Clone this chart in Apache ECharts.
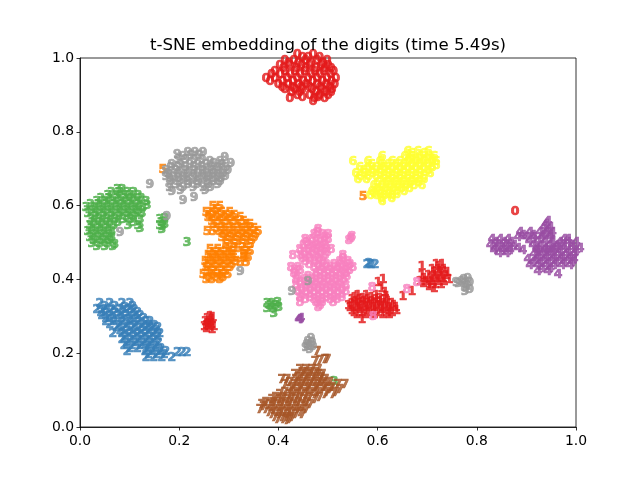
<!DOCTYPE html>
<html><head><meta charset="utf-8">
<style>html,body{margin:0;padding:0;background:#fff}#c{width:640px;height:480px}</style>
<script src="https://cdn.jsdelivr.net/npm/echarts@6/dist/echarts.min.js"></script>
</head><body><div id="c"></div>
<script>
const titleText = "t-SNE embedding of the digits (time 5.49s)";
const digitNames = ["0","1","2","3","4","5","6","7","8","9"];
const digitColors = ["#e41a1c","#e41a1c","#377eb8","#4daf4a","#984ea3","#ff7f00","#ffff33","#a65628","#f781bf","#999999"];

const digit0 = [[.43,.995],[.462,.995],[.405,.98],[.423,.98],[.447,.98],[.47,.98],[.49,.98],[.395,.965],[.415,.965],[.438,.965],[.455,.965],[.478,.965],[.492,.965],[.385,.948],[.405,.948],[.425,.948],[.445,.948],[.465,.948],[.483,.948],[.503,.948],[.367,.93],[.385,.93],[.41,.93],[.43,.93],[.452,.93],[.47,.93],[.49,.93],[.508,.93],[.392,.915],[.412,.915],[.432,.915],[.448,.915],[.47,.915],[.488,.915],[.505,.915],[.405,.9],[.425,.9],[.44,.9],[.46,.9],[.48,.9],[.5,.9],[.43,.885],[.455,.885],[.475,.885],[.492,.885],[.415,.875],[.465,.875],[.485,.875],[.462,.868],[.869,.569],
[.44,.988],[.452,.988],[.475,.988],[.412,.972],[.432,.972],[.458,.972],[.482,.972],[.402,.957],[.428,.957],[.447,.957],[.468,.957],[.486,.957],[.498,.957],[.378,.94],[.396,.94],[.416,.94],[.436,.94],[.458,.94],[.476,.94],[.497,.94],[.375,.923],[.4,.923],[.421,.923],[.442,.923],[.461,.923],[.481,.923],[.499,.923],[.4,.907],[.42,.907],[.438,.907],[.455,.907],[.476,.907],[.495,.907],[.418,.892],[.435,.892],[.468,.892],[.486,.892],[.498,.892],[.44,.878],[.472,.878]];
const digit1 = [[.254,.285],[.244,.271],[.254,.271],[.242,.257],[.252,.257],[.262,.257],[.26,.282],[.25,.265],[.603,.385],[.593,.377],[.607,.35],[.552,.341],[.569,.341],[.589,.341],[.54,.33],[.556,.33],[.573,.33],[.589,.33],[.605,.33],[.54,.32],[.556,.32],[.573,.32],[.589,.32],[.605,.32],[.621,.32],[.536,.309],[.552,.309],[.569,.309],[.585,.309],[.601,.309],[.617,.309],[.629,.309],[.544,.295],[.56,.295],[.577,.295],[.593,.295],[.609,.295],[.621,.295],[.56,.276],[.643,.339],[.661,.352],[.71,.425],[.722,.425],[.702,.412],[.714,.412],[.726,.412],[.681,.396],[.694,.396],[.706,.396],[.718,.396],[.73,.396],[.677,.379],[.69,.379],[.702,.379],[.714,.379],[.726,.379],[.681,.42],[.696,.366],
[.248,.279],[.258,.278],[.247,.262],[.257,.264],[.246,.252],[.258,.25],[.546,.336],[.562,.335],[.58,.337],[.597,.334],[.548,.325],[.565,.326],[.581,.325],[.597,.325],[.613,.326],[.533,.314],[.548,.315],[.563,.314],[.578,.316],[.594,.314],[.61,.315],[.625,.314],[.54,.302],[.556,.303],[.571,.301],[.586,.302],[.6,.303],[.615,.301],[.63,.302],[.55,.291],[.567,.29],[.585,.291],[.602,.29],[.615,.29],[.6,.36],[.61,.34],[.716,.42],[.707,.405],[.72,.405],[.733,.404],[.686,.388],[.7,.387],[.712,.388],[.724,.388],[.736,.386],[.684,.374],[.697,.372],[.708,.373],[.72,.372],[.706,.362]];
const digit2 = [[.032,.32],[.052,.32],[.077,.32],[.093,.32],[.026,.304],[.04,.304],[.056,.304],[.073,.304],[.089,.304],[.101,.304],[.036,.287],[.052,.287],[.069,.287],[.085,.287],[.101,.287],[.113,.287],[.044,.271],[.06,.271],[.077,.271],[.093,.271],[.109,.271],[.125,.271],[.133,.271],[.065,.255],[.081,.255],[.097,.255],[.113,.255],[.125,.255],[.137,.255],[.149,.255],[.058,.238],[.077,.238],[.093,.238],[.109,.238],[.125,.238],[.141,.238],[.153,.238],[.077,.222],[.093,.222],[.109,.222],[.125,.222],[.141,.222],[.081,.206],[.097,.206],[.113,.206],[.129,.206],[.145,.206],[.087,.19],[.123,.19],[.137,.19],[.153,.19],[.165,.19],[.125,.173],[.141,.173],[.157,.173],[.177,.173],[.188,.187],[.198,.187],[.208,.187],[.571,.425],[.579,.425],[.587,.425],[.575,.428],
[.042,.312],[.062,.313],[.083,.31],[.098,.312],[.034,.296],[.047,.296],[.062,.295],[.079,.296],[.095,.295],[.108,.296],[.044,.279],[.058,.28],[.075,.279],[.091,.278],[.105,.28],[.12,.279],[.052,.263],[.07,.262],[.086,.264],[.102,.262],[.118,.263],[.132,.262],[.142,.262],[.073,.247],[.088,.246],[.104,.247],[.118,.246],[.132,.247],[.146,.246],[.083,.23],[.1,.23],[.116,.23],[.133,.23],[.149,.23],[.086,.214],[.104,.214],[.12,.214],[.134,.214],[.15,.215],[.093,.198],[.108,.198],[.125,.198],[.14,.198],[.155,.198],[.13,.182],[.147,.182],[.162,.183]];
const digit3 = [[.067,.629],[.077,.629],[.048,.612],[.065,.612],[.081,.612],[.093,.612],[.109,.612],[.026,.596],[.042,.596],[.058,.596],[.075,.596],[.091,.596],[.107,.596],[.125,.596],[.004,.58],[.022,.58],[.038,.58],[.054,.58],[.071,.58],[.087,.58],[.103,.58],[.119,.58],[.008,.564],[.024,.564],[.04,.564],[.056,.564],[.073,.564],[.089,.564],[.105,.564],[.117,.564],[.014,.547],[.03,.547],[.046,.547],[.062,.547],[.079,.547],[.093,.547],[.113,.547],[.012,.531],[.028,.531],[.044,.531],[.06,.531],[.089,.531],[.109,.531],[.008,.515],[.024,.515],[.04,.515],[.056,.515],[.012,.499],[.028,.499],[.044,.499],[.056,.499],[.016,.482],[.032,.482],[.048,.482],[.026,.474],[.042,.474],[.058,.474],[.062,.479],[.113,.523],[.208,.485],[.153,.548],[.163,.551],[.153,.532],[.163,.534],[.157,.521],[.369,.321],[.379,.321],[.391,.323],[.369,.307],[.381,.307],[.393,.309],[.383,.293],[.504,.108],
[.055,.62],[.072,.62],[.088,.62],[.1,.62],[.034,.604],[.05,.604],[.067,.604],[.083,.604],[.099,.604],[.115,.604],[.013,.588],[.03,.588],[.046,.588],[.063,.588],[.079,.588],[.095,.588],[.111,.588],[.127,.587],[.016,.572],[.032,.572],[.048,.572],[.065,.572],[.081,.572],[.097,.572],[.11,.572],[.022,.556],[.038,.556],[.054,.556],[.07,.556],[.086,.556],[.1,.556],[.02,.539],[.036,.539],[.052,.539],[.068,.539],[.1,.54],[.016,.523],[.032,.523],[.048,.523],[.018,.507],[.034,.507],[.05,.507],[.02,.49],[.038,.49],[.052,.49],[.158,.54],[.158,.528],[.375,.314],[.387,.315]];
const digit4 = [[.935,.542],[.927,.526],[.94,.526],[.879,.512],[.899,.512],[.919,.512],[.931,.512],[.944,.512],[.875,.499],[.891,.499],[.907,.499],[.923,.499],[.94,.499],[.823,.493],[.839,.493],[.855,.493],[.976,.493],[.819,.477],[.835,.477],[.851,.477],[.867,.477],[.905,.477],[.921,.477],[.938,.477],[.954,.477],[.827,.463],[.845,.463],[.859,.463],[.885,.463],[.913,.463],[.929,.463],[.946,.463],[.96,.485],[.976,.485],[.992,.485],[.952,.469],[.968,.469],[.984,.469],[1,.469],[.907,.453],[.923,.453],[.94,.453],[.956,.453],[.972,.453],[.988,.453],[.895,.439],[.911,.439],[.927,.439],[.944,.439],[.96,.439],[.976,.439],[.988,.439],[.899,.423],[.915,.423],[.931,.423],[.948,.423],[.964,.423],[.98,.423],[.915,.406],[.935,.406],[.956,.398],[.435,.276],[.433,.276],[.437,.279],
[.931,.534],[.935,.519],[.905,.505],[.925,.506],[.94,.506],[.885,.505],[.83,.485],[.847,.485],[.861,.485],[.898,.488],[.915,.488],[.93,.488],[.945,.488],[.968,.495],[.829,.47],[.843,.47],[.858,.47],[.875,.47],[.912,.47],[.93,.47],[.945,.47],[.837,.455],[.852,.455],[.917,.461],[.936,.461],[.96,.461],[.976,.461],[.992,.461],[.915,.446],[.932,.446],[.948,.446],[.964,.446],[.98,.446],[.905,.431],[.92,.431],[.936,.431],[.952,.431],[.968,.431],[.984,.431],[.923,.414],[.94,.414],[.965,.477],[.984,.477]];
const digit5 = [[.26,.583],[.274,.583],[.246,.566],[.26,.566],[.278,.566],[.294,.566],[.25,.553],[.266,.553],[.282,.553],[.298,.553],[.315,.553],[.262,.534],[.278,.534],[.294,.534],[.31,.534],[.327,.534],[.335,.534],[.248,.515],[.26,.515],[.274,.515],[.286,.515],[.302,.515],[.319,.515],[.335,.515],[.351,.515],[.278,.499],[.294,.499],[.31,.499],[.327,.499],[.343,.499],[.286,.48],[.302,.48],[.319,.48],[.335,.48],[.298,.461],[.323,.461],[.335,.461],[.323,.444],[.331,.444],[.315,.431],[.327,.431],[.254,.466],[.27,.466],[.286,.466],[.25,.45],[.266,.45],[.282,.45],[.298,.45],[.244,.434],[.26,.434],[.276,.434],[.292,.434],[.306,.434],[.246,.417],[.262,.417],[.278,.417],[.294,.417],[.24,.398],[.262,.398],[.278,.398],[.29,.398],[.258,.385],[.274,.385],[.246,.385],[.5625,.61],[.159,.683],
[.267,.575],[.253,.558],[.27,.56],[.286,.56],[.303,.559],[.258,.544],[.274,.544],[.29,.544],[.306,.544],[.322,.544],[.268,.525],[.284,.525],[.3,.525],[.316,.525],[.33,.525],[.343,.525],[.282,.507],[.298,.507],[.314,.507],[.33,.507],[.346,.507],[.29,.49],[.306,.49],[.322,.49],[.338,.49],[.31,.47],[.328,.47],[.302,.47],[.322,.452],[.262,.458],[.276,.458],[.292,.458],[.255,.442],[.27,.442],[.286,.442],[.302,.442],[.25,.426],[.266,.426],[.282,.426],[.298,.425],[.248,.408],[.256,.408],[.27,.408],[.285,.408],[.252,.392],[.268,.392],[.28,.39]];
const digit6 = [[.653,.732],[.673,.732],[.694,.732],[.601,.718],[.647,.718],[.661,.718],[.677,.718],[.694,.718],[.706,.718],[.542,.705],[.573,.705],[.597,.705],[.621,.705],[.637,.705],[.653,.705],[.669,.705],[.685,.705],[.702,.705],[.71,.705],[.556,.688],[.573,.688],[.589,.688],[.605,.688],[.621,.688],[.637,.688],[.653,.688],[.669,.688],[.685,.688],[.702,.688],[.548,.672],[.565,.672],[.581,.672],[.597,.672],[.613,.672],[.629,.672],[.645,.672],[.661,.672],[.677,.672],[.698,.672],[.552,.656],[.569,.656],[.605,.656],[.621,.656],[.637,.656],[.653,.656],[.669,.656],[.685,.656],[.585,.64],[.601,.64],[.617,.64],[.633,.64],[.649,.64],[.665,.64],[.681,.64],[.581,.623],[.597,.623],[.613,.623],[.629,.623],[.645,.623],[.577,.612],[.589,.612],[.605,.612],[.621,.612],[.601,.596],
[.66,.726],[.685,.726],[.655,.712],[.668,.712],[.683,.712],[.7,.712],[.58,.697],[.6,.697],[.613,.697],[.629,.697],[.645,.697],[.661,.697],[.677,.697],[.693,.697],[.71,.695],[.564,.68],[.581,.68],[.597,.68],[.613,.68],[.629,.68],[.645,.68],[.661,.68],[.677,.68],[.693,.68],[.556,.664],[.573,.664],[.589,.664],[.605,.664],[.621,.664],[.637,.664],[.653,.664],[.669,.664],[.685,.664],[.592,.648],[.61,.648],[.626,.648],[.642,.648],[.658,.648],[.674,.648],[.592,.632],[.608,.632],[.624,.632],[.64,.632],[.656,.632],[.585,.618],[.598,.617],[.614,.617],[.63,.617],[.6,.606],[.62,.605]];
const digit7 = [[.47,.19],[.466,.163],[.476,.165],[.486,.168],[.49,.168],[.435,.141],[.448,.141],[.46,.141],[.472,.141],[.425,.127],[.44,.127],[.456,.127],[.472,.127],[.48,.127],[.399,.114],[.409,.114],[.427,.114],[.444,.114],[.46,.114],[.476,.114],[.486,.114],[.405,.1],[.425,.1],[.44,.1],[.456,.1],[.472,.1],[.488,.1],[.512,.1],[.526,.1],[.415,.087],[.431,.087],[.448,.087],[.464,.087],[.48,.087],[.496,.087],[.516,.087],[.395,.073],[.415,.073],[.431,.073],[.448,.073],[.466,.073],[.486,.073],[.502,.073],[.379,.06],[.395,.06],[.411,.06],[.427,.06],[.444,.06],[.466,.06],[.359,.046],[.375,.046],[.391,.046],[.407,.046],[.423,.046],[.44,.046],[.456,.046],[.355,.033],[.367,.033],[.383,.033],[.399,.033],[.415,.033],[.431,.033],[.448,.033],[.379,.019],[.395,.019],[.411,.019],[.427,.019],[.44,.019],[.391,.005],[.403,.005],[.415,.005],
[.44,.134],[.452,.134],[.466,.134],[.433,.12],[.448,.12],[.464,.12],[.478,.12],[.415,.107],[.434,.107],[.45,.107],[.466,.107],[.48,.107],[.495,.107],[.42,.094],[.436,.094],[.452,.094],[.468,.094],[.484,.094],[.5,.094],[.405,.08],[.423,.08],[.44,.08],[.456,.08],[.472,.08],[.49,.08],[.508,.08],[.387,.066],[.403,.066],[.42,.066],[.436,.066],[.455,.066],[.475,.066],[.367,.053],[.383,.053],[.4,.053],[.415,.053],[.432,.053],[.45,.053],[.362,.04],[.38,.04],[.396,.04],[.412,.04],[.428,.04],[.444,.04],[.373,.026],[.39,.026],[.405,.026],[.42,.026],[.436,.026],[.385,.012],[.4,.012],[.41,.012],[.42,.012],[.41,.003]];
const digit8 = [[.472,.52],[.464,.507],[.48,.507],[.492,.507],[.446,.493],[.46,.493],[.476,.493],[.492,.493],[.442,.477],[.456,.477],[.472,.477],[.488,.477],[.435,.466],[.452,.466],[.468,.466],[.484,.466],[.498,.466],[.421,.45],[.437,.45],[.454,.45],[.47,.45],[.486,.45],[.522,.45],[.446,.434],[.466,.434],[.482,.434],[.516,.434],[.532,.434],[.417,.417],[.431,.417],[.464,.417],[.48,.417],[.496,.417],[.512,.417],[.528,.417],[.542,.417],[.423,.401],[.468,.401],[.484,.401],[.5,.401],[.516,.401],[.528,.401],[.427,.385],[.444,.385],[.46,.385],[.476,.385],[.492,.385],[.508,.385],[.524,.385],[.427,.369],[.448,.369],[.464,.369],[.48,.369],[.496,.369],[.512,.369],[.528,.369],[.431,.352],[.448,.352],[.464,.352],[.48,.352],[.496,.352],[.512,.352],[.528,.352],[.435,.336],[.456,.336],[.472,.336],[.488,.336],[.504,.336],[.52,.336],[.435,.322],[.468,.322],[.48,.322],[.502,.322],[.472,.309],[.538,.496],[.534,.49],[.54,.501],[.581,.363],[.583,.285],[.651,.358],[.671,.377],
[.47,.513],[.486,.5],[.45,.485],[.468,.485],[.484,.485],[.462,.472],[.478,.472],[.444,.458],[.46,.458],[.476,.458],[.49,.458],[.44,.442],[.456,.442],[.474,.442],[.522,.442],[.454,.425],[.472,.425],[.488,.425],[.504,.425],[.52,.425],[.536,.425],[.424,.409],[.436,.409],[.476,.409],[.492,.409],[.508,.409],[.522,.409],[.535,.409],[.43,.393],[.452,.393],[.468,.393],[.484,.393],[.5,.393],[.516,.393],[.53,.393],[.436,.377],[.452,.377],[.468,.377],[.484,.377],[.5,.377],[.516,.377],[.438,.36],[.456,.36],[.472,.36],[.488,.36],[.504,.36],[.52,.36],[.44,.344],[.456,.344],[.472,.344],[.488,.344],[.504,.344],[.52,.344],[.446,.33],[.464,.33],[.48,.33],[.496,.33],[.51,.33],[.476,.316]];
const digit9 = [[.188,.723],[.21,.73],[.224,.73],[.24,.73],[.284,.715],[.296,.7],[.177,.697],[.194,.697],[.214,.697],[.23,.697],[.246,.697],[.262,.7],[.278,.697],[.165,.68],[.185,.68],[.205,.68],[.222,.68],[.24,.68],[.258,.68],[.272,.68],[.29,.68],[.165,.665],[.18,.665],[.2,.665],[.22,.665],[.238,.665],[.252,.665],[.27,.665],[.285,.665],[.175,.65],[.192,.65],[.21,.65],[.23,.65],[.248,.65],[.262,.65],[.275,.65],[.172,.635],[.2,.635],[.22,.635],[.24,.635],[.255,.635],[.177,.624],[.194,.626],[.2,.6],[.222,.607],[.244,.626],[.27,.642],[.133,.642],[.167,.556],[.073,.512],[.452,.379],[.419,.352],[.315,.406],[.45,.21],[.46,.215],[.447,.2],[.455,.195],[.462,.205],[.458,.225],[.754,.374],[.766,.385],[.774,.388],[.778,.377],[.77,.363],[.768,.352],[.778,.358],[.75,.377],
[.2,.72],[.216,.722],[.232,.722],[.19,.71],[.205,.71],[.222,.71],[.238,.71],[.254,.705],[.275,.705],[.175,.688],[.19,.688],[.205,.688],[.222,.688],[.238,.688],[.255,.688],[.27,.688],[.286,.69],[.17,.672],[.19,.672],[.21,.672],[.23,.672],[.248,.672],[.262,.672],[.28,.672],[.172,.658],[.19,.658],[.206,.658],[.224,.658],[.242,.658],[.26,.658],[.276,.658],[.185,.643],[.21,.643],[.228,.643],[.25,.643],[.452,.218],[.456,.203],[.451,.205],[.766,.375],[.772,.37],[.762,.38]];

const digitPoints = [digit0,digit1,digit2,digit3,digit4,digit5,digit6,digit7,digit8,digit9];

const axisCommon = {
  type: 'value', min: 0, max: 1, interval: 0.2,
  splitLine: {show: false},
  axisLine: {show: true, onZero: false, lineStyle: {color: '#000', width: 0.8}},
  axisTick: {show: true, length: 3.5, lineStyle: {color: '#000', width: 0.8}}
};
const labelCommon = {color: '#000', fontFamily: 'DejaVu Sans', fontSize: 13.9, formatter: v => v.toFixed(1)};
const chart = echarts.init(document.getElementById('c'), null, {renderer: 'canvas'});
chart.setOption({
  animation: false,
  backgroundColor: '#fff',
  title: {text: titleText, left: 323, top: 32, textAlign: 'center',
    textStyle: {color: '#000', fontFamily: 'DejaVu Sans', fontSize: 16.6, fontWeight: 'normal'}},
  grid: {left: 80, right: 64, top: 58, bottom: 53, show: true, borderColor: '#000', borderWidth: 0.8, backgroundColor: 'transparent'},
  xAxis: {...axisCommon, axisLabel: {...labelCommon, margin: 7}},
  yAxis: {...axisCommon, axisLabel: {...labelCommon, margin: 6, padding: [4, 0, 0, 0]}},
  series: digitPoints.map((pts, i) => ({
    type: 'scatter',
    name: digitNames[i],
    data: pts,
    clip: false,
    silent: true,
    symbol: 'circle',
    symbolSize: 1,
    itemStyle: {color: 'rgba(0,0,0,0)'},
    label: {show: true, position: 'inside', offset: [4, -5], formatter: digitNames[i],
      color: digitColors[i], fontFamily: 'DejaVu Sans', fontWeight: 'bold', fontSize: 12.5,
      textBorderColor: digitColors[i], textBorderWidth: 0.7}
  }))
});
</script></body></html>
